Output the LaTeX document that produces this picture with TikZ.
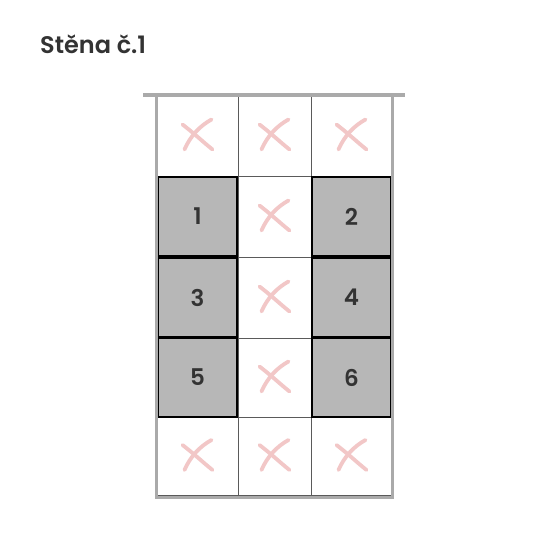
\documentclass[tikz,border=0pt]{standalone}
\usepackage{fontspec}
\newfontfamily\pop{Poppins}[UprightFont=* SemiBold]
\newfontfamily\popsb{Poppins}[UprightFont=* SemiBold]
\definecolor{frame}{HTML}{AAAAAA}
\definecolor{cellline}{HTML}{5A5A5A}
\definecolor{seat}{HTML}{B7B7B7}
\definecolor{xpink}{HTML}{F2C7C7}
\definecolor{txt}{HTML}{333333}
\begin{document}
\begin{tikzpicture}[x=1pt,y=-1pt,
  cellbox/.style={draw=cellline,line width=0.9pt,fill=white},
  seatbox/.style={draw=black,line width=2pt,fill=seat,minimum width=79pt,minimum height=79pt,inner sep=0pt,font=\pop\fontsize{23}{23}\selectfont,text=txt},
  xstroke/.style={draw=xpink,line width=3.8pt,line cap=round}]
\useasboundingbox (0,0) rectangle (550,550);
\node[anchor=base west,inner sep=0pt,font=\popsb\fontsize{24}{24}\selectfont,text=txt] (title) at (40,53) {Stěna č.1};
% cells
\foreach \r/\ya/\yb in {0/96/176,1/176/257,2/257/338,3/338/417,4/417/495}{
  \foreach \c/\xa/\xb in {0/157/238,1/238/311,2/311/392}{
    \draw[cellbox] (\xa,\ya) rectangle (\xb,\yb);
  }
}
% crosses
\foreach \cx/\cy in {197.5/135.5,274.5/135.5,351.5/135.5,274.5/216.5,274.5/297.5,274.5/377.5,197.5/456,274.5/456,351.5/456}{
  \begin{scope}[shift={(\cx,\cy)}]
    \draw[xstroke] (-15,-11) .. controls (-2,-1) and (5,6) .. (15,14);
    \draw[xstroke] (14,-16) .. controls (3,-10) and (-7,0) .. (-13,14);
  \end{scope}
}
% seats
\node[seatbox] (s1) at (197.5,216.5) {1};
\node[seatbox] (s2) at (351.5,216.5) {2};
\node[seatbox] (s3) at (197.5,297.5) {3};
\node[seatbox] (s4) at (351.5,297.5) {4};
\node[seatbox] (s5) at (197.5,377.5) {5};
\node[seatbox] (s6) at (351.5,377.5) {6};
% frame
\draw[frame,line width=3.5pt] (143,95) -- (405,95);
\draw[frame,line width=3.5pt] (156.5,95) -- (156.5,497.5) -- (392.5,497.5) -- (392.5,95);
\end{tikzpicture}
\end{document}
